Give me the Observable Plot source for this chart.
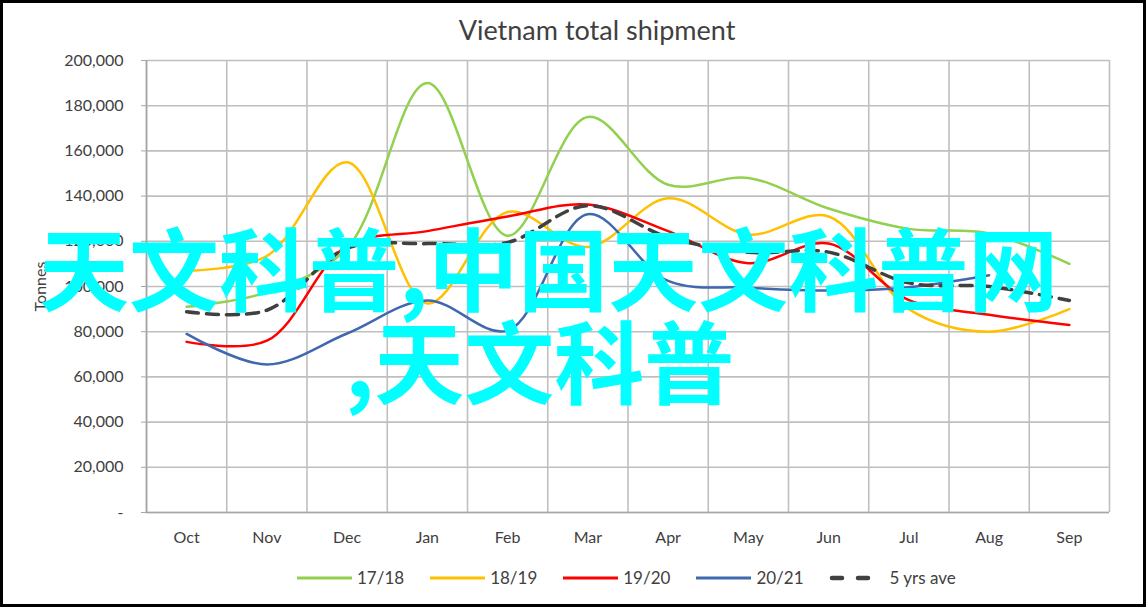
<!DOCTYPE html>
<html>
<head>
<meta charset="utf-8">
<script src="https://cdn.jsdelivr.net/npm/d3@7"></script>
<script src="https://cdn.jsdelivr.net/npm/@observablehq/plot@0.6"></script>
<style>
  body { margin: 0; background: #fff; }
  #wrap { position: relative; width: 1146px; height: 607px; box-sizing: border-box; border: 3px solid #000; overflow: hidden; background: #fff; font-family: Lato, "Open Sans", sans-serif; }
  #chart { position: absolute; left: -3px; top: -3px; width: 1146px; }
  #chart svg { max-width: none !important; }
  #title { position: absolute; left: 94px; width: 1000px; top: 10px; text-align: center; font-size: 27px; color: #404040; }
  #legend { position: absolute; left: 292px; top: 564px; display: flex; align-items: center; font-size: 17px; color: #404040; }
  #legend .item { display: flex; align-items: center; margin-right: 24px; }
  #legend svg { margin-right: 4px; }
  .wm { position: absolute; font-family: "Noto Sans CJK SC", sans-serif; font-weight: 700; font-size: 90px; line-height: 90px; color: #00FFFF; white-space: nowrap; }
</style>
</head>
<body>
<div id="wrap">
  <div id="chart"></div>
  <div id="title"></div>
  <div id="legend"></div>
  <div class="wm" id="wm1" style="left:36px; top:217px;"></div>
  <div class="wm" id="wm2" style="left:342px; top:310px;"></div>
</div>
<script>
const title = "Vietnam total shipment";
const yLabel = "Tonnes";
const months = ["Oct","Nov","Dec","Jan","Feb","Mar","Apr","May","Jun","Jul","Aug","Sep"];
const yTicks = [0, 20000, 40000, 60000, 80000, 100000, 120000, 140000, 160000, 180000, 200000];
const seriesNames = ["17/18", "18/19", "19/20", "20/21", "5 yrs ave"];
const seriesColors = ["#92D050", "#FFC000", "#FF0000", "#4068AE", "#404040"];
const s1718 = [91000, 97500, 117000, 190000, 122500, 175000, 145000, 148000, 134500, 125500, 123500, 110000];
const s1819 = [107000, 113500, 155000, 92500, 133000, 117500, 139000, 123000, 131000, 90000, 80000, 90000];
const s1920 = [75500, 76000, 118000, 124500, 131000, 136300, 124500, 110300, 119000, 94000, 87500, 83000];
const s2021 = [79000, 65500, 79200, 93800, 80500, 132000, 102500, 99500, 98200, 99700, 105000, null];
const s5yr  = [88800, 89500, 117000, 119000, 119500, 135800, 121800, 115200, 115200, 101600, 100000, 93800];
const watermark1 = "天文科普,中国天文科普网";
const watermark2 = ",天文科普";

const allValues = [s1718, s1819, s1920, s2021, s5yr];
const rows = allValues.flatMap((vals, k) =>
  vals.map((v, i) => ({series: seriesNames[k], i: i + 0.5, v})).filter(d => d.v != null));

const fmt = d3.format(",");
const chart = Plot.plot({
  width: 1146,
  height: 562,
  marginLeft: 146,
  marginRight: 37,
  marginTop: 60,
  marginBottom: 50,
  style: {fontFamily: "Lato, 'Open Sans', sans-serif", fontSize: "16px", color: "#404040", background: "transparent", overflow: "visible", maxWidth: "none"},
  x: {domain: [0, 12], axis: null},
  y: {domain: [0, 200000], axis: null},
  color: {domain: seriesNames, range: seriesColors},
  marks: [
    Plot.gridX(d3.range(0, 13), {stroke: "#BFBFBF", strokeOpacity: 1, strokeWidth: 1.6}),
    Plot.gridY(yTicks, {stroke: "#BFBFBF", strokeOpacity: 1, strokeWidth: 1.6}),
    Plot.ruleX([0], {stroke: "#A6A6A6", strokeWidth: 1.6}),
    Plot.ruleY([0], {stroke: "#A6A6A6", strokeWidth: 1.6}),
    Plot.axisY(yTicks, {
      tickSize: 5, tickPadding: 18, stroke: "#A6A6A6",
      tickFormat: d => d === 0 ? "-" : fmt(d),
      label: yLabel, labelAnchor: "center", labelOffset: 112, labelArrow: "none", fill: "#404040"
    }),
    Plot.axisX(months.map((m, i) => i + 0.5), {
      tickSize: 0, tickPadding: 19, tickFormat: d => months[Math.round(d - 0.5)], label: null, fill: "#404040"
    }),
    ...seriesNames.map((name, k) => Plot.line(rows.filter(d => d.series === name), {
      x: "i", y: "v", stroke: seriesColors[k],
      strokeWidth: k === 4 ? 3.5 : 2.5,
      strokeDasharray: k === 4 ? "12,8" : null,
      curve: "catmull-rom"
    }))
  ]
});
document.getElementById("chart").appendChild(chart);
document.getElementById("title").textContent = title;

const legend = document.getElementById("legend");
seriesNames.forEach((name, k) => {
  const item = document.createElement("div");
  item.className = "item";
  const dashed = k === 4;
  item.innerHTML = `<svg width="58" height="10"><line x1="${dashed ? 4 : 2}" x2="${dashed ? 56 : 57}" y1="5" y2="5" stroke="${seriesColors[k]}" stroke-width="${dashed ? 4.5 : 3}" ${dashed ? 'stroke-dasharray="10,16" stroke-linecap="round"' : ''}/></svg><span>${name}</span>`;
  legend.appendChild(item);
});
document.getElementById("wm1").textContent = watermark1;
document.getElementById("wm2").textContent = watermark2;
</script>
</body>
</html>
